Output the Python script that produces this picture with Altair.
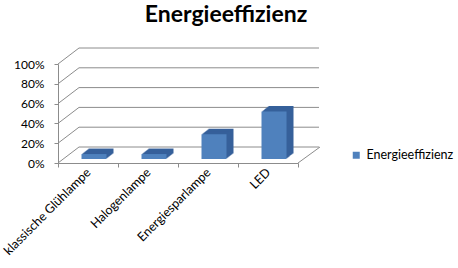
import altair as alt
import pandas as pd

categories = ["klassische Glühlampe", "Halogenlampe", "Energiesparlampe", "LED"]
values = [0.05, 0.05, 0.25, 0.48]
series_name = "Energieeffizienz"
grid_values = [0, 0.2, 0.4, 0.6, 0.8, 1.0]

df = pd.DataFrame({"lamp": categories, "value": values, "serie": [series_name] * len(categories)})
grid_df = pd.DataFrame({"v": grid_values})

W, H = 240, 99
DX, DY = 21, -16
FRONT = "#4F81BD"
SIDE = "#36609A"
GRID = "#8C8C8C"
FONT = "Lato"

x_scale = alt.Scale(domain=categories, paddingInner=0, paddingOuter=0)
x_axis = alt.Axis(labelAngle=-45, labelAlign="right", labelBaseline="middle",
                  tickBand="extent", tickSize=4, labelPadding=3, grid=False,
                  domainColor=GRID, tickColor=GRID, labelFont=FONT,
                  labelFontSize=12.5, labelColor="#000000")
y_scale = alt.Scale(domain=[0, 1])
y_axis = alt.Axis(format="%", values=grid_values, grid=False, tickSize=4, labelPadding=10,
                  labelOverlap=False, domainColor=GRID, tickColor=GRID, labelFont=FONT,
                  labelFontSize=12, labelColor="#000000")


def yq(field):
    return alt.Y(field, type="quantitative", scale=y_scale, axis=y_axis, title=None)


def xn():
    return alt.X("lamp:N", scale=x_scale, axis=x_axis, title=None)


base_grid = alt.Chart(grid_df)

back_lines = base_grid.mark_rule(color=GRID, strokeWidth=1, xOffset=DX, x2Offset=DX, yOffset=DY).encode(
    x=alt.value(0), x2=alt.value(W), y=yq("v"),
)
diag_lines = base_grid.mark_rule(color=GRID, strokeWidth=1, x2Offset=DX, y2Offset=DY).encode(
    x=alt.value(0), x2=alt.value(0), y=yq("v"), y2="v:Q",
)
floor_right = alt.Chart(pd.DataFrame({"v": [0]})).mark_rule(color=GRID, strokeWidth=1, x2Offset=DX + 1, y2Offset=DY).encode(
    x=alt.value(W), x2=alt.value(W), y=yq("v"), y2="v:Q",
)

base = alt.Chart(df)
BX, BY = 6, -4
layers = [back_lines, diag_lines, floor_right]
steps = 7
for k in range(steps, 0, -1):
    ox = BX + k
    oy = BY - k * 5.5 / steps
    layers.append(
        base.mark_bar(width=25, color=SIDE, xOffset=ox, x2Offset=ox, yOffset=oy, y2Offset=oy).encode(
            x=xn(), y=yq("value"), y2=alt.datum(0)
        )
    )
front = base.mark_bar(width=25, xOffset=BX, x2Offset=BX, yOffset=BY, y2Offset=BY).encode(
    x=xn(), y=yq("value"), y2=alt.datum(0),
    color=alt.Color("serie:N", scale=alt.Scale(range=[FRONT]),
                    legend=alt.Legend(title=None, orient="none", legendX=292, legendY=85,
                                      symbolType="square", symbolSize=49, symbolStrokeWidth=0,
                                      labelFont=FONT, labelFontSize=12.5, labelColor="#000000")),
)
layers.append(front)

chart = alt.layer(*layers).properties(
    width=W, height=H,
    background="white",
    title=alt.Title("Energieeffizienz", font=FONT, fontSize=23, fontWeight="bold",
                    color="#000000", anchor="middle", dx=48, offset=21),
    autosize=alt.AutoSizeParams(type="none"),
    padding={"left": 58, "top": 64, "right": 160, "bottom": 105},
).configure_view(stroke=None, strokeWidth=0).configure_axisY(labelOverlap=False)

chart.save("out.html", embed_options={"renderer": "svg", "actions": False})
